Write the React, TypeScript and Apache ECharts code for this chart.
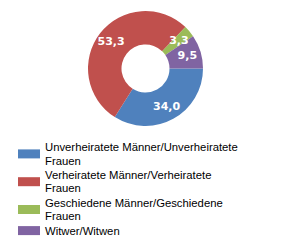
import React, { useEffect, useRef } from "react";
import * as echarts from "echarts";

const categories = [
  "Unverheiratete Männer/Unverheiratete Frauen",
  "Verheiratete Männer/Verheiratete Frauen",
  "Geschiedene Männer/Geschiedene Frauen",
  "Witwer/Witwen",
];
const values = [34.0, 53.3, 3.3, 9.5];
const colors = ["#4F81BD", "#C0504D", "#9BBB59", "#8064A2"];

const wrapName = (name: string) =>
  name.length > 30 ? name.replace(/\s+(\S+)$/, "\n$1") : name;

export default function App() {
  const ref = useRef<HTMLDivElement>(null);
  useEffect(() => {
    if (!ref.current) return;
    const chart = echarts.init(ref.current, null, { renderer: "svg" });
    chart.setOption({
      animation: false,
      color: colors,
      legend: {
        orient: "vertical",
        left: 18,
        top: 140.5,
        padding: 0,
        itemWidth: 22,
        itemHeight: 9,
        itemGap: 1,
        icon: "rect",
        selectedMode: false,
        formatter: wrapName,
        textStyle: {
          fontFamily: "'Liberation Sans', Arial, sans-serif",
          fontSize: 11.3,
          color: "#000",
          lineHeight: 13.4,
        },
        data: categories,
      },
      series: [
        {
          type: "pie",
          center: [145.5, 68.5],
          radius: [24, 57.5],
          startAngle: 0,
          clockwise: true,
          minShowLabelAngle: 0,
          avoidLabelOverlap: false,
          label: {
            show: true,
            position: "inside",
            color: "#fff",
            fontFamily: "'DejaVu Sans', Verdana, sans-serif",
            fontWeight: "bold",
            fontSize: 11,
            formatter: (p: any) => p.value.toFixed(1).replace(".", ","),
          },
          labelLine: { show: false },
          emphasis: { disabled: true },
          itemStyle: { borderWidth: 0 },
          data: categories.map((name, i) => ({ name, value: values[i] })),
        },
      ],
    });
    return () => chart.dispose();
  }, []);
  return (
    <div
      ref={ref}
      style={{ position: "absolute", left: 0, top: 0, width: 290, height: 250 }}
    />
  );
}
